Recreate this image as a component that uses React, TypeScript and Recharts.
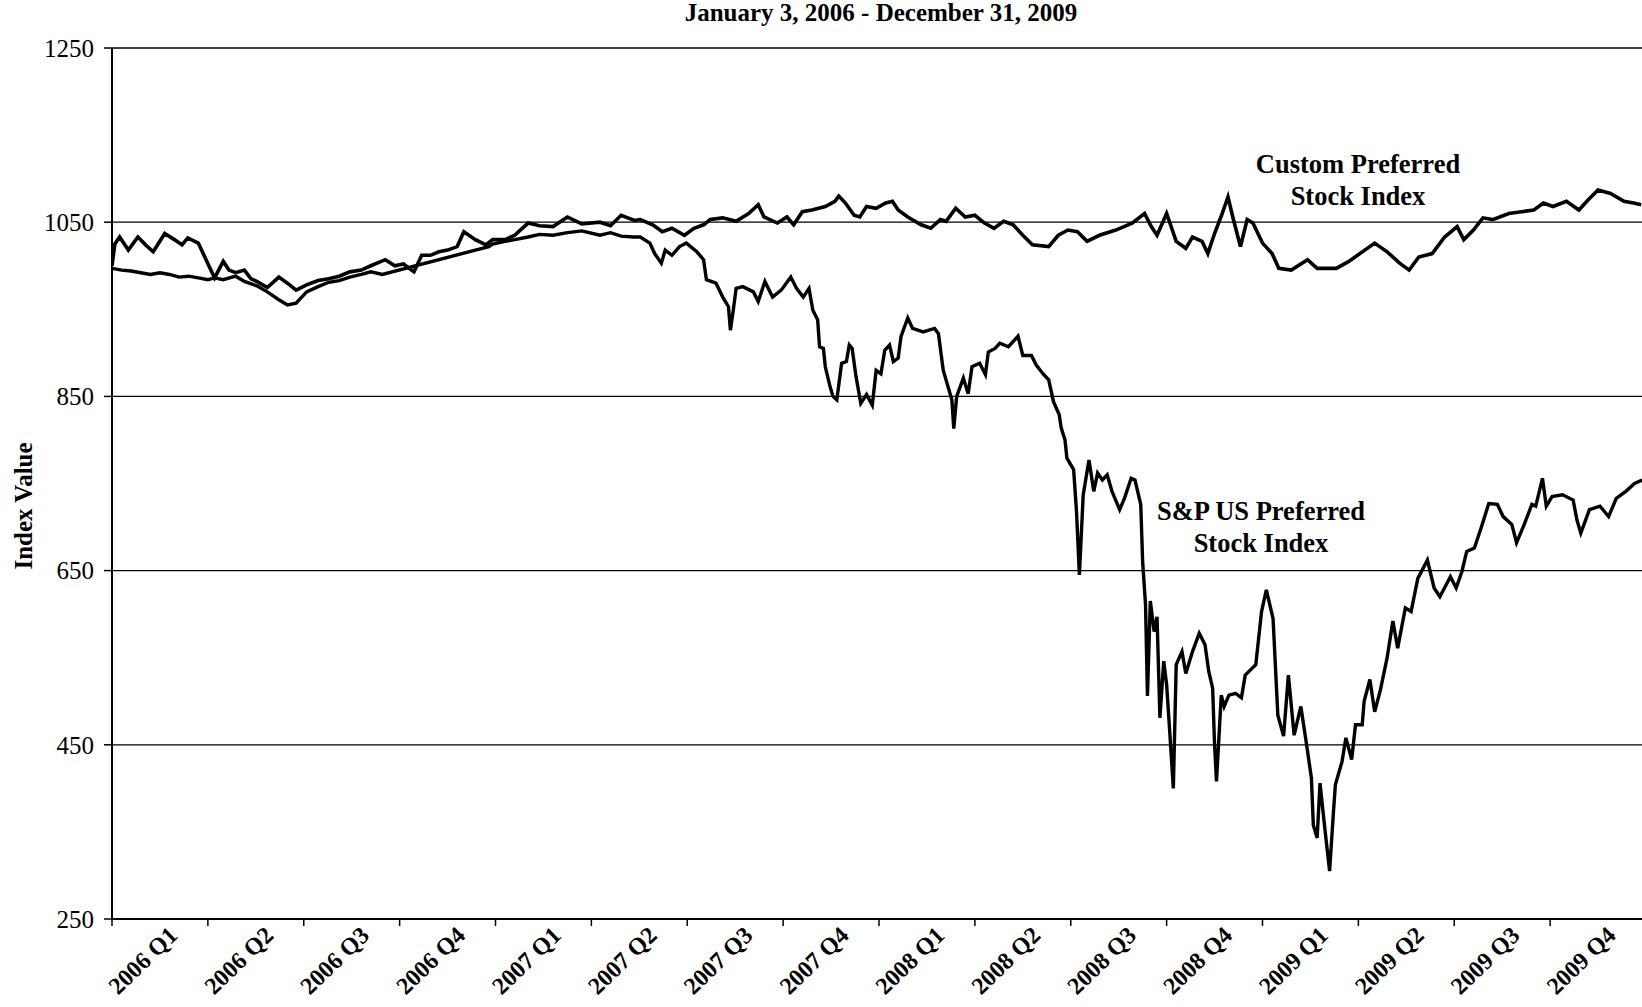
import React from 'react';
import { LineChart, Line, XAxis, YAxis, CartesianGrid } from 'recharts';

// time in quarters since Jan 3, 2006 (0 = start of 2006 Q1, 16 = end of 2009 Q4)
const quarterLabels = [
  '2006 Q1', '2006 Q2', '2006 Q3', '2006 Q4',
  '2007 Q1', '2007 Q2', '2007 Q3', '2007 Q4',
  '2008 Q1', '2008 Q2', '2008 Q3', '2008 Q4',
  '2009 Q1', '2009 Q2', '2009 Q3', '2009 Q4',
];
const yTicks = [250, 450, 650, 850, 1050, 1250];

const customQ = [
  0.00, 0.03, 0.08, 0.17, 0.27, 0.35, 0.43, 0.55, 0.65, 0.73, 0.79, 0.90, 1.07, 1.16, 1.22, 1.29,
  1.38, 1.45, 1.51, 1.62, 1.74, 1.83, 1.92, 2.03, 2.15, 2.26, 2.37, 2.48, 2.60, 2.70, 2.85, 2.95,
  3.04, 3.15, 3.23, 3.32, 3.41, 3.50, 3.60, 3.67, 3.79, 3.90, 3.97, 4.10, 4.20, 4.34, 4.46, 4.60,
  4.75, 4.90, 5.09, 5.20, 5.31, 5.45,
  5.51, 5.64, 5.74, 5.84, 5.97, 6.07, 6.17, 6.24, 6.37, 6.51, 6.64, 6.74, 6.80, 6.94, 7.04, 7.11,
  7.20, 7.30, 7.44, 7.54, 7.58, 7.65, 7.74, 7.80, 7.87, 7.97, 8.07, 8.14, 8.20, 8.30, 8.44, 8.54,
  8.64, 8.70, 8.80, 8.90, 9.00, 9.10, 9.20, 9.30, 9.40, 9.50, 9.60, 9.77, 9.87, 9.97, 10.07, 10.17,
  10.30, 10.47, 10.64, 10.77, 10.84, 10.90, 11.00, 11.10, 11.20, 11.27, 11.37, 11.43, 11.50, 11.58,
  11.64, 11.69, 11.77, 11.84, 11.90, 12.00, 12.10, 12.17, 12.30, 12.47, 12.57, 12.77, 12.90, 13.17,
  13.30, 13.43, 13.53, 13.63, 13.77, 13.90, 14.03, 14.10, 14.20, 14.30, 14.40, 14.57, 14.70, 14.83,
  14.93, 15.03, 15.17, 15.30, 15.40, 15.50, 15.63, 15.77, 15.87, 15.95,
];
const customV = [
  1000, 1025, 1033, 1018, 1033, 1024, 1016, 1037, 1030, 1024, 1032, 1026, 986, 1005, 995, 992,
  995, 985, 982, 975, 987, 980, 972, 978, 983, 985, 988, 993, 995, 1000, 1007, 1000,
  1002, 993, 1012, 1012, 1016, 1018, 1022, 1039, 1030, 1024, 1030, 1030, 1035, 1049, 1046, 1045,
  1056, 1048, 1050, 1046, 1058, 1052,
  1053, 1047, 1039, 1043, 1035, 1043, 1047, 1053, 1055, 1051, 1060, 1070, 1056, 1049, 1056, 1047,
  1062, 1064, 1068, 1074, 1080, 1072, 1058, 1056, 1068, 1066, 1072, 1074, 1064, 1056, 1047, 1043,
  1053, 1051, 1066, 1056, 1058, 1049, 1043, 1051, 1047, 1035, 1024, 1022, 1035, 1041, 1039, 1028,
  1035, 1041, 1049, 1060, 1045, 1035, 1060, 1028, 1020, 1033, 1028, 1014, 1037, 1060,
  1079, 1056, 1022, 1053, 1049, 1026, 1014, 997, 995, 1007, 997, 997, 1005, 1026,
  1016, 1003, 995, 1010, 1014, 1033, 1045, 1030, 1041, 1055, 1053, 1060, 1062, 1064,
  1072, 1068, 1074, 1064, 1076, 1087, 1083, 1074, 1072, 1070,
];

const spQ = [
  0.00, 0.10, 0.20, 0.30, 0.40, 0.50, 0.60, 0.70, 0.80, 0.90, 1.00, 1.07, 1.16, 1.29, 1.38, 1.51,
  1.62, 1.74, 1.83, 1.92, 2.03, 2.15, 2.26, 2.37, 2.48, 2.60, 2.70, 2.82, 3.93, 3.97, 4.10, 4.20,
  4.34, 4.46, 4.60, 4.75, 4.90, 5.09, 5.20, 5.31, 5.44, 5.51, 5.61, 5.66, 5.73, 5.77, 5.84, 5.92,
  5.99, 6.10, 6.17, 6.20, 6.30, 6.37, 6.43, 6.45, 6.48, 6.51, 6.58, 6.69, 6.74, 6.81, 6.89, 6.98,
  7.08, 7.14, 7.21, 7.27, 7.31, 7.36, 7.38, 7.42, 7.44, 7.49, 7.52, 7.56, 7.61, 7.66, 7.69, 7.72,
  7.76, 7.81, 7.87, 7.93, 7.97, 8.02, 8.06, 8.11, 8.15, 8.20, 8.23, 8.30, 8.35, 8.46, 8.58, 8.62,
  8.67, 8.72, 8.76, 8.78, 8.81, 8.88, 8.93, 8.97, 9.05, 9.11, 9.14, 9.21, 9.26, 9.35, 9.45, 9.50,
  9.59, 9.64, 9.71, 9.77, 9.82, 9.88, 9.90, 9.94, 9.96, 10.03, 10.06, 10.09, 10.13, 10.19, 10.24,
  10.28, 10.33, 10.38, 10.43, 10.51, 10.56, 10.63, 10.67, 10.73, 10.75, 10.78, 10.80, 10.83, 10.87,
  10.90, 10.93, 10.97, 11.00, 11.03, 11.07, 11.10, 11.16, 11.20, 11.27, 11.34, 11.40, 11.44, 11.48,
  11.50, 11.52, 11.57, 11.60, 11.65, 11.72, 11.78, 11.82, 11.93, 11.99, 12.04, 12.11, 12.16, 12.22,
  12.27, 12.33, 12.40, 12.46, 12.51, 12.53, 12.57, 12.60, 12.65, 12.70, 12.74, 12.76, 12.83, 12.87,
  12.93, 12.97, 13.04, 13.06, 13.12, 13.17, 13.23, 13.30, 13.36, 13.41, 13.49, 13.55, 13.62, 13.72,
  13.79, 13.85, 13.96, 14.02, 14.08, 14.13, 14.21, 14.28, 14.36, 14.45, 14.51, 14.60, 14.65, 14.73,
  14.81, 14.85, 14.92, 14.96, 15.02, 15.13, 15.24, 15.28, 15.32, 15.41, 15.52, 15.61, 15.69, 15.79,
  15.88, 15.96,
];
const spV = [
  997, 995, 994, 992, 990, 992, 990, 987, 988, 986, 984, 986, 984, 988, 982, 977,
  970, 961, 955, 957, 970, 976, 981, 983, 987, 990, 993, 990, 1022, 1025, 1028, 1030,
  1033, 1036, 1035, 1038, 1040, 1035, 1038, 1034, 1033, 1033, 1026, 1014, 1003, 1018, 1012, 1022,
  1026, 1016, 1007, 984, 980, 964, 953, 926, 949, 974, 976, 970, 959, 982, 964, 972,
  987, 974, 964, 974, 949, 938, 907, 905, 884, 861, 850, 846, 888, 890, 909, 905,
  873, 842, 852, 840, 880, 876, 903, 909, 890, 894, 919, 940, 928, 924, 928, 922,
  880, 861, 846, 813, 850, 871, 853, 884, 888, 875, 901, 905, 911, 907, 919, 897,
  897, 886, 876, 869, 844, 829, 814, 800, 779, 766, 718, 645, 737, 777, 741,
  762, 754, 760, 741, 720, 733, 756, 754, 726, 660, 611, 506, 615, 580,
  597, 481, 546, 519, 469, 400, 542, 557, 532, 557, 578, 565, 534, 515,
  450, 408, 507, 494, 507, 509, 504, 530, 542, 603, 628, 595, 484, 460,
  530, 461, 494, 450, 412, 358, 343, 406, 354, 305, 373, 404, 431, 458,
  433, 473, 473, 500, 525, 488, 513, 550, 592, 561, 607, 603, 641, 662,
  630, 620, 643, 630, 649, 672, 676, 699, 727, 726, 712, 703, 682, 703,
  726, 724, 756, 724, 735, 737, 731, 708, 693, 720, 724, 712, 733, 741,
  750, 754,
];

const customData = customQ.map((q, i) => ({ q, v: customV[i] }));
const spData = spQ.map((q, i) => ({ q, v: spV[i] }));

const xTicks: number[] = [];
for (let i = 0; i <= 16; i++) xTicks.push(i);
for (let i = 0; i < 16; i++) xTicks.push(i + 0.5);
xTicks.sort((a, b) => a - b);

const SERIF = '"Liberation Serif", "Times New Roman", serif';

const XTick = (props: any) => {
  const { x, y, payload } = props;
  const v = payload.value as number;
  if (Number.isInteger(v)) {
    return <line x1={x} y1={y} x2={x} y2={y + 7} stroke="#000" strokeWidth={1.5} />;
  }
  const idx = Math.floor(v);
  const ax = x + 19;
  const ay = y + 18;
  return (
    <text
      x={ax}
      y={ay}
      transform={`rotate(-44 ${ax} ${ay})`}
      textAnchor="end"
      fontFamily={SERIF}
      fontWeight="bold"
      fontSize={24}
      fill="#000"
    >
      {quarterLabels[idx]}
    </text>
  );
};

export default function App() {
  return (
    <div
      style={{
        position: 'fixed',
        left: 0,
        top: 0,
        width: 1642,
        height: 1007,
        overflow: 'hidden',
        background: '#fff',
      }}
    >
      <LineChart width={1700} height={1007} margin={{ top: 48, right: 54, bottom: 48, left: 52 }}>
        <CartesianGrid vertical={false} stroke="#000" strokeWidth={1.3} strokeOpacity={1} />
        <XAxis
          type="number"
          dataKey="q"
          domain={[0, 16]}
          ticks={xTicks}
          interval={0}
          allowDataOverflow
          height={40}
          tickSize={0}
          tickMargin={0}
          tickLine={false}
          axisLine={{ stroke: '#000', strokeWidth: 2 }}
          tick={<XTick />}
        />
        <YAxis
          type="number"
          domain={[250, 1250]}
          ticks={yTicks}
          interval={0}
          width={60}
          tickSize={8}
          tickMargin={10}
          axisLine={{ stroke: '#000', strokeWidth: 2 }}
          tickLine={{ stroke: '#000', strokeWidth: 1.5 }}
          tick={{ fontSize: 25, fontFamily: SERIF, fill: '#000' }}
        />
        <Line
          data={customData}
          dataKey="v"
          name="Custom Preferred Stock Index"
          type="linear"
          stroke="#000"
          strokeWidth={3.6}
          dot={false}
          isAnimationActive={false}
        />
        <Line
          data={spData}
          dataKey="v"
          name="S&P US Preferred Stock Index"
          type="linear"
          stroke="#000"
          strokeWidth={3.4}
          dot={false}
          isAnimationActive={false}
        />
      </LineChart>
      <svg
        width={1642}
        height={1007}
        style={{ position: 'absolute', left: 0, top: 0, pointerEvents: 'none' }}
      >
        <text x={881} y={21} textAnchor="middle" fontFamily={SERIF} fontWeight="bold" fontSize={25} fill="#000">
          January 3, 2006 - December 31, 2009
        </text>
        <text
          x={32}
          y={506}
          transform="rotate(-90 32 506)"
          textAnchor="middle"
          fontFamily={SERIF}
          fontWeight="bold"
          fontSize={25}
          fill="#000"
        >
          Index Value
        </text>
        <text x={1358} y={173} textAnchor="middle" fontFamily={SERIF} fontWeight="bold" fontSize={26.5} fill="#000">
          Custom Preferred
        </text>
        <text x={1358} y={205} textAnchor="middle" fontFamily={SERIF} fontWeight="bold" fontSize={26.5} fill="#000">
          Stock Index
        </text>
        <text x={1261} y={520} textAnchor="middle" fontFamily={SERIF} fontWeight="bold" fontSize={26.5} fill="#000">
          S&amp;P US Preferred
        </text>
        <text x={1261} y={552} textAnchor="middle" fontFamily={SERIF} fontWeight="bold" fontSize={26.5} fill="#000">
          Stock Index
        </text>
      </svg>
    </div>
  );
}
